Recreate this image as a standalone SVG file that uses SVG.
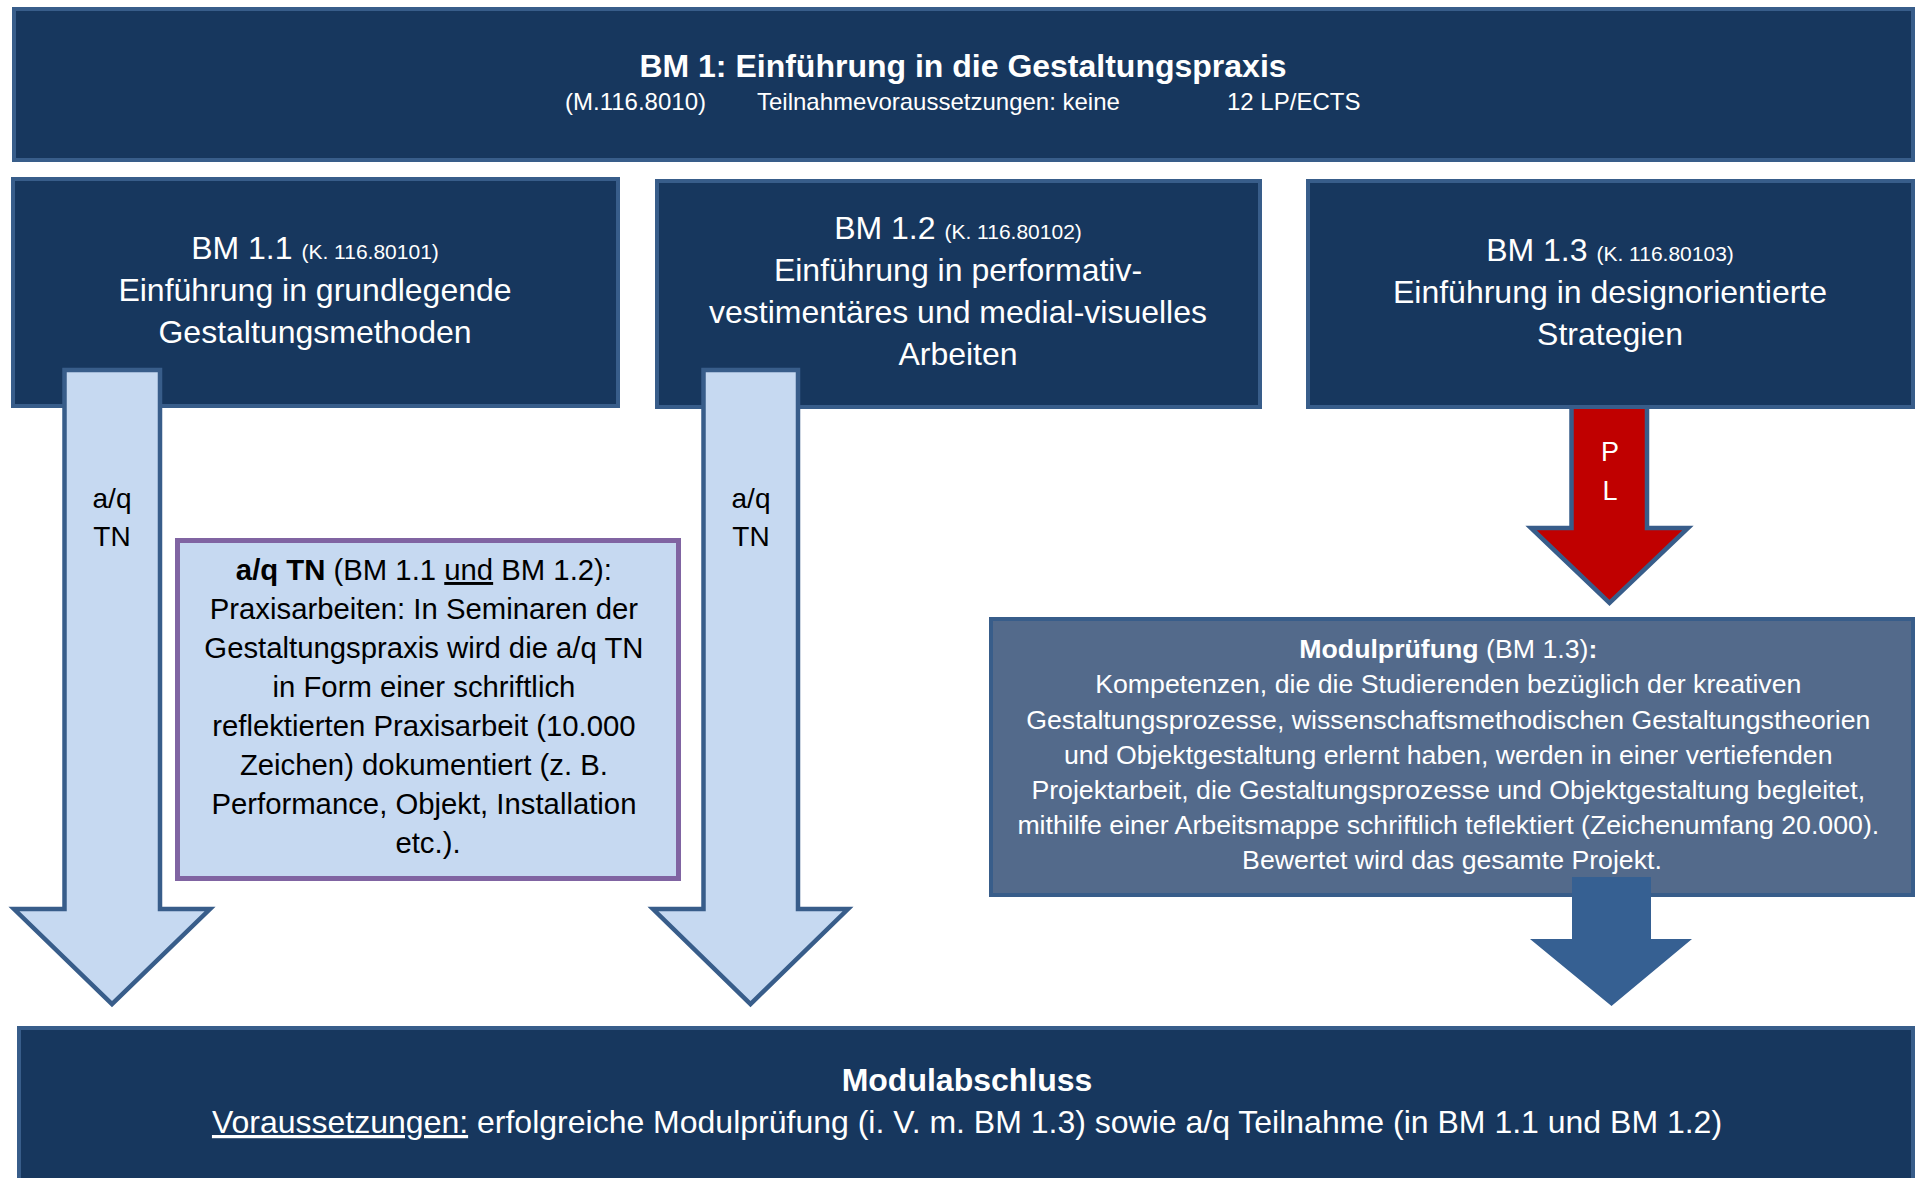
<svg xmlns="http://www.w3.org/2000/svg" width="1915" height="1178" viewBox="0 0 1915 1178">
<style>
text{font-family:"Liberation Sans",Arial,sans-serif}
.dark{fill:#17375E;stroke:#385D8A;stroke-width:4}
.w{fill:#ffffff}
.k{fill:#000000}
.b{font-weight:bold}
.u{text-decoration:underline}
.light{fill:#C6D9F1;stroke:#385D8A;stroke-width:4.5;stroke-linejoin:miter}
</style>
<rect width="1915" height="1178" fill="#ffffff"/>
<g id="bm1">
<rect class="dark" x="14" y="9" width="1899" height="151"/>
<text class="w b" x="963" y="77" font-size="32" text-anchor="middle">BM 1: Einführung in die Gestaltungspraxis</text>
<text class="w" font-size="24" y="110"><tspan x="565">(M.116.8010)</tspan><tspan x="757">Teilnahmevoraussetzungen: keine</tspan><tspan x="1227">12 LP/ECTS</tspan></text>
</g>
<g id="bm1-1">
<rect class="dark" x="13" y="179" width="605" height="227"/>
<text class="w" font-size="32" text-anchor="middle"><tspan x="315" y="259">BM 1.1 <tspan font-size="21">(K. 116.80101)</tspan></tspan><tspan x="315" y="301">Einführung in grundlegende</tspan><tspan x="315" y="343">Gestaltungsmethoden</tspan></text>
</g>
<g id="bm1-2">
<rect class="dark" x="657" y="181" width="603" height="226"/>
<text class="w" font-size="32" text-anchor="middle"><tspan x="958" y="239">BM 1.2 <tspan font-size="21">(K. 116.80102)</tspan></tspan><tspan x="958" y="281">Einführung in performativ-</tspan><tspan x="958" y="323">vestimentäres und medial-visuelles</tspan><tspan x="958" y="365">Arbeiten</tspan></text>
</g>
<g id="connectors">
<g id="arrow-pl">
<polygon points="1571.5,404 1647,404 1647,528 1688,528 1609.5,603 1531,528 1571.5,528" fill="#C00000" stroke="#385D8A" stroke-width="4.5"/>
<text class="w" font-size="27" text-anchor="middle"><tspan x="1610" y="461">P</tspan><tspan x="1610" y="500">L</tspan></text>
</g>
</g>
<g id="bm1-3">
<rect class="dark" x="1308" y="181" width="605" height="226"/>
<text class="w" font-size="32" text-anchor="middle"><tspan x="1610" y="261">BM 1.3 <tspan font-size="21">(K. 116.80103)</tspan></tspan><tspan x="1610" y="303">Einführung in designorientierte</tspan><tspan x="1610" y="345">Strategien</tspan></text>
</g>
<g id="aq-tn-box">
<rect x="177.5" y="540.5" width="501" height="338" fill="#C6D9F1" stroke="#8064A2" stroke-width="5"/>
<text class="k" font-size="29.3" text-anchor="middle">
<tspan x="428" y="580"><tspan class="b">a/q TN</tspan> (BM 1.1 <tspan class="u">und</tspan> BM 1.2):</tspan>
<tspan x="428" y="619">Praxisarbeiten: In Seminaren der</tspan>
<tspan x="428" y="658">Gestaltungspraxis wird die a/q TN</tspan>
<tspan x="428" y="697">in Form einer schriftlich</tspan>
<tspan x="428" y="736">reflektierten Praxisarbeit (10.000</tspan>
<tspan x="428" y="775">Zeichen) dokumentiert (z. B.</tspan>
<tspan x="428" y="814">Performance, Objekt, Installation</tspan>
<tspan x="428" y="853">etc.).</tspan>
</text>
</g>
<g id="modulpruefung">
<rect x="991" y="619" width="922" height="276" fill="#536A8B" stroke="#385D8A" stroke-width="4"/>
<text class="w" font-size="26.7" text-anchor="middle">
<tspan x="1452" y="658"><tspan class="b">Modulprüfung</tspan> (BM 1.3)<tspan class="b">:</tspan></tspan>
<tspan x="1452" y="693">Kompetenzen, die die Studierenden bezüglich der kreativen</tspan>
<tspan x="1452" y="728.5">Gestaltungsprozesse, wissenschaftsmethodischen Gestaltungstheorien</tspan>
<tspan x="1452" y="764">und Objektgestaltung erlernt haben, werden in einer vertiefenden</tspan>
<tspan x="1452" y="799">Projektarbeit, die Gestaltungsprozesse und Objektgestaltung begleitet,</tspan>
<tspan x="1452" y="834">mithilfe einer Arbeitsmappe schriftlich teflektiert (Zeichenumfang 20.000).</tspan>
<tspan x="1452" y="869">Bewertet wird das gesamte Projekt.</tspan>
</text>
</g>
<g id="connectors-2">
<g id="arrow-aq-1">
<polygon class="light" points="64.5,370 160,370 160,909 210,909 112,1004 14,909 64.5,909"/>
<text class="k" font-size="28" text-anchor="middle"><tspan x="112" y="508">a/q</tspan><tspan x="112" y="546">TN</tspan></text>
</g>
<g id="arrow-aq-2">
<polygon class="light" points="703.5,370 798,370 798,909 848,909 750.5,1004 653,909 703.5,909"/>
<text class="k" font-size="28" text-anchor="middle"><tspan x="751" y="508">a/q</tspan><tspan x="751" y="546">TN</tspan></text>
</g>
<g id="arrow-mp">
<polygon points="1572,877 1651,877 1651,939 1692,939 1611.5,1006 1530,939 1572,939" fill="#366092"/>
</g>
</g>
<g id="modulabschluss">
<rect class="dark" x="19" y="1028" width="1894" height="200"/>
<text class="w b" x="967" y="1091" font-size="32" text-anchor="middle">Modulabschluss</text>
<text class="w" x="967" y="1133" font-size="32" text-anchor="middle"><tspan class="u">Voraussetzungen:</tspan> erfolgreiche Modulprüfung (i. V. m. BM 1.3) sowie a/q Teilnahme (in BM 1.1 und BM 1.2)</text>
</g>
</svg>
